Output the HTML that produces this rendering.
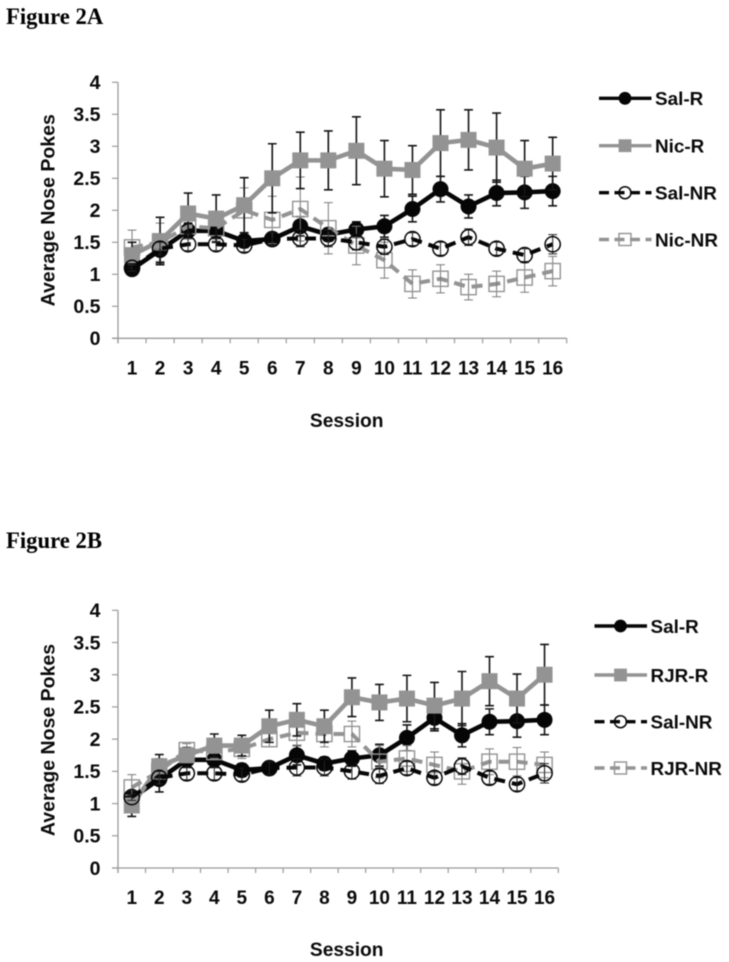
<!DOCTYPE html>
<html lang="en">
<head>
<meta charset="utf-8">
<title>Figure 2</title>
<style>
html,body{margin:0;padding:0;background:#fff;}
body{width:729px;height:962px;overflow:hidden;position:relative;}
svg{position:absolute;left:0;top:0;filter:blur(0.4px);}
text{font-family:"Liberation Sans",Arial,sans-serif;font-weight:700;fill:#0a0a0a;}
.fig{font-family:"Liberation Serif","Times New Roman",serif;font-size:22.7px;fill:#000;}
</style>
</head>
<body>
<svg id="chart" width="729" height="962" viewBox="0 0 729 962" xmlns="http://www.w3.org/2000/svg">
<text class="fig" x="6" y="24">Figure 2A</text>
<text class="fig" x="6" y="548">Figure 2B</text>
<g id="panelA"></g>
<g id="panelB"></g>
</svg>
<script>
const sessions = ["1","2","3","4","5","6","7","8","9","10","11","12","13","14","15","16"];
const yTicks = [0,0.5,1,1.5,2,2.5,3,3.5,4];

const salR = [1.08,1.38,1.68,1.68,1.52,1.55,1.75,1.62,1.70,1.75,2.02,2.33,2.06,2.27,2.28,2.30];
const salRErr = [0.08,0.20,0.12,0.12,0.10,0.10,0.15,0.10,0.12,0.17,0.20,0.20,0.18,0.20,0.25,0.23];
const salNR = [1.10,1.40,1.47,1.47,1.45,1.55,1.56,1.56,1.50,1.43,1.55,1.40,1.58,1.40,1.30,1.47];
const salNRErr = [0.05,0.10,0.10,0.10,0.10,0.10,0.13,0.13,0.12,0.12,0.10,0.10,0.13,0.10,0.10,0.15];

const nicR = [1.30,1.52,1.95,1.87,2.08,2.50,2.78,2.78,2.93,2.65,2.63,3.05,3.10,2.98,2.65,2.73];
const nicRErr = [0.20,0.37,0.32,0.37,0.43,0.54,0.44,0.46,0.53,0.44,0.38,0.52,0.47,0.54,0.44,0.41];
const nicNR = [1.42,1.50,1.75,1.72,2.00,1.85,2.02,1.72,1.45,1.22,0.85,0.93,0.80,0.85,0.95,1.05];
const nicNRErr = [0.27,0.30,0.20,0.20,0.35,0.37,0.50,0.40,0.30,0.28,0.22,0.22,0.20,0.20,0.23,0.23];

const rjrR = [0.97,1.58,1.75,1.90,1.90,2.20,2.30,2.20,2.65,2.57,2.63,2.52,2.63,2.90,2.63,3.00];
const rjrRErr = [0.17,0.18,0.12,0.18,0.16,0.25,0.25,0.25,0.30,0.28,0.36,0.36,0.42,0.38,0.38,0.47];
const rjrNR = [1.25,1.50,1.83,1.80,1.85,2.00,2.10,2.08,2.08,1.65,1.70,1.60,1.50,1.65,1.65,1.60];
const rjrNRErr = [0.20,0.20,0.10,0.10,0.15,0.12,0.20,0.20,0.20,0.25,0.20,0.20,0.20,0.20,0.22,0.20];

const NS = "http://www.w3.org/2000/svg";
const BLACK = "#060606";
const GREY = "#939393";

function make(parent, tag, attrs, txt) {
  const el = document.createElementNS(NS, tag);
  for (const k in attrs) el.setAttribute(k, attrs[k]);
  if (txt !== undefined) el.textContent = txt;
  parent.appendChild(el);
  return el;
}

function drawMarker(g, kind, cx, cy, color, size) {
  let m;
  if (kind === "dot") {
    m = make(g, "circle", {cx: cx, cy: cy, r: size, fill: color});
  } else if (kind === "square") {
    m = make(g, "rect", {x: cx - size, y: cy - size, width: 2 * size, height: 2 * size, fill: color});
  } else if (kind === "ring") {
    m = make(g, "circle", {cx: cx, cy: cy, r: size - 0.4, fill: "none", stroke: color, "stroke-width": 1.5});
  } else {
    m = make(g, "rect", {x: cx - size + 0.4, y: cy - size + 0.4, width: 2 * size - 0.8, height: 2 * size - 0.8, fill: "none", stroke: color, "stroke-width": 1.4});
  }
  
  
}

function drawPanel(root, cfg) {
  const xScale = i => cfg.x0 + (i + 0.5) * (cfg.x1 - cfg.x0) / sessions.length;
  const yScale = v => cfg.y0 - v * (cfg.y0 - cfg.yTop) / 4;

  const axes = make(root, "g", {});
  
  
  const AXIS = "#9a9a9a";
  const yLine = make(axes, "line", {x1: cfg.x0, x2: cfg.x0, y1: cfg.yTop, y2: cfg.y0 + 5, stroke: AXIS, "stroke-width": 1.3});
  
  
  const xLine = make(axes, "line", {x1: cfg.x0 - 6, x2: cfg.x1, y1: cfg.y0, y2: cfg.y0, stroke: AXIS, "stroke-width": 1.3});
  
  

  yTicks.forEach(v => {
    const y = yScale(v);
    const tick = make(axes, "line", {x1: cfg.x0 - 6, x2: cfg.x0, y1: y, y2: y, stroke: AXIS, "stroke-width": 1.2});
    
    
    const label = make(axes, "text", {x: 100.5, y: y + 6.8, "text-anchor": "end", "font-size": 19.5}, String(v));
    
    
  });

  for (let i = 0; i <= sessions.length; i++) {
    const x = cfg.x0 + i * (cfg.x1 - cfg.x0) / sessions.length;
    const tick = make(axes, "line", {x1: x, x2: x, y1: cfg.y0, y2: cfg.y0 + 5, stroke: AXIS, "stroke-width": 1.2});
    
    
  }

  sessions.forEach((s, i) => {
    const label = make(axes, "text", {x: xScale(i), y: cfg.y0 + 36, "text-anchor": "middle", "font-size": 19}, s);
    
    
  });

  const yTitle = make(axes, "text", {x: 0, y: 0, "text-anchor": "middle", "font-size": 19.5, transform: "translate(54.5," + (cfg.y0 - 128) + ") rotate(-90)"}, "Average Nose Pokes");
  
  
  const xTitle = make(axes, "text", {x: 346.7, y: cfg.titleY, "text-anchor": "middle", "font-size": 19.2}, "Session");
  
  

  cfg.series.forEach(s => {
    const g = make(root, "g", {});
    
    
    const open = s.kind === "ring" || s.kind === "box";
    const errColor = open ? (s.color === GREY ? "#7a7a7a" : "#222") : "#151515";
    const errWidth = open ? 1 : 1.6;

    const pts = s.values.map((v, i) => xScale(i) + "," + yScale(v)).join(" ");
    const line = document.createElementNS(NS, "polyline");
    line.setAttribute("points", pts);
    line.setAttribute("fill", "none");
    line.setAttribute("stroke", s.color);
    line.setAttribute("stroke-width", open ? 4 : 4.6);
    line.setAttribute("stroke-linejoin", "round");
    if (open) line.setAttribute("stroke-dasharray", "11 7");
    
    
    g.appendChild(line);

    s.values.forEach((v, i) => {
      const cx = xScale(i);
      const hi = yScale(v + s.err[i]);
      const lo = yScale(v - s.err[i]);
      const bar = make(g, "path", {
        d: "M" + cx + " " + hi + "V" + lo + "M" + (cx - 4.4) + " " + hi + "H" + (cx + 4.4) + "M" + (cx - 4.4) + " " + lo + "H" + (cx + 4.4),
        stroke: errColor, "stroke-width": errWidth, fill: "none"
      });
      
      
      drawMarker(g, s.kind, cx, yScale(v), s.color, 8);
    });
  });

  cfg.series.slice().sort((a, b) => a.legendRow - b.legendRow).forEach(s => {
    const y = cfg.legendY[s.legendRow];
    const open = s.kind === "ring" || s.kind === "box";
    const entry = make(root, "g", {});
    
    
    const cx = cfg.legendX + 26;
    const attrs = {x1: cfg.legendX, x2: cfg.legendX + 52.5, y1: y, y2: y, stroke: s.color, "stroke-width": 3.4};
    if (open) attrs["stroke-dasharray"] = "10 5.5";
    make(entry, "line", attrs);
    drawMarker(entry, s.kind, cx, y, s.color, 6.4);
    make(entry, "text", {x: cfg.legendX + 56, y: y + 6.8, "font-size": 18.9}, s.label);
  });
}

drawPanel(document.getElementById("panelA"), {
  x0: 118, x1: 566.7, y0: 338.3, yTop: 82.3, titleY: 427,
  legendX: 599, legendY: [98.3, 145.7, 192.7, 239.5],
  series: [
    {id: "sal-r", label: "Sal-R", values: salR, err: salRErr, kind: "dot", color: BLACK, legendRow: 0},
    {id: "nic-nr", label: "Nic-NR", values: nicNR, err: nicNRErr, kind: "box", color: GREY, legendRow: 3},
    {id: "nic-r", label: "Nic-R", values: nicR, err: nicRErr, kind: "square", color: GREY, legendRow: 1},
    {id: "sal-nr", label: "Sal-NR", values: salNR, err: salNRErr, kind: "ring", color: BLACK, legendRow: 2}
  ]
});

drawPanel(document.getElementById("panelB"), {
  x0: 118, x1: 558.3, y0: 868, yTop: 610.3, titleY: 956,
  legendX: 594.5, legendY: [626, 675, 721.7, 768],
  series: [
    {id: "sal-r", label: "Sal-R", values: salR, err: salRErr, kind: "dot", color: BLACK, legendRow: 0},
    {id: "rjr-nr", label: "RJR-NR", values: rjrNR, err: rjrNRErr, kind: "box", color: GREY, legendRow: 3},
    {id: "rjr-r", label: "RJR-R", values: rjrR, err: rjrRErr, kind: "square", color: GREY, legendRow: 1},
    {id: "sal-nr", label: "Sal-NR", values: salNR, err: salNRErr, kind: "ring", color: BLACK, legendRow: 2}
  ]
});
</script>
</body>
</html>
